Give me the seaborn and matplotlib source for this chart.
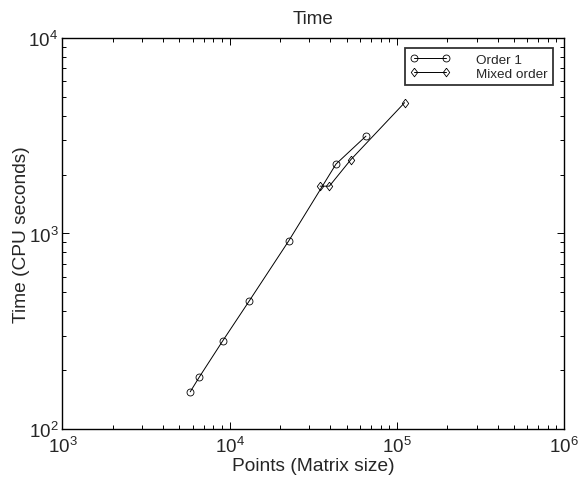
import matplotlib
matplotlib.use("Agg")
import matplotlib.pyplot as plt
import matplotlib.ticker as mticker
from matplotlib.lines import Line2D
import seaborn as sns
import pandas as pd

# Order 1 runs
order1_points = [5810, 6600, 9080, 13030, 22540, 43240, 65300]
order1_time = [155, 185, 282, 449, 916, 2265, 3148]

# Mixed order runs
mixed_points = [34750, 39450, 52970, 111200]
mixed_time = [1746, 1746, 2383, 4667]

series_names = ["Order 1", "Mixed order"]

# slightly tall diamond, like the classic MATLAB 'd' glyph
diamond = [(0, 1), (0.75, 0), (0, -1), (-0.75, 0), (0, 1)]
series_markers = {"Order 1": "o", "Mixed order": diamond}
marker_sizes = [5.0, 6.2]

sns.set_theme(style="white")
plt.rcParams["font.family"] = ["Liberation Sans", "DejaVu Sans"]
plt.rcParams["mathtext.fontset"] = "custom"
plt.rcParams["mathtext.rm"] = "Liberation Sans"
plt.rcParams["mathtext.it"] = "Liberation Sans"

df = pd.concat([
    pd.DataFrame({"points": order1_points, "time": order1_time, "series": series_names[0]}),
    pd.DataFrame({"points": mixed_points, "time": mixed_time, "series": series_names[1]}),
])

fig = plt.figure(figsize=(5.78, 4.81), dpi=100)
ax = fig.add_axes([0.108, 0.106, 0.868, 0.813])

sns.lineplot(data=df, x="points", y="time", style="series",
             markers=series_markers, dashes=False, color="black", lw=0.7,
             sort=False, markersize=5, markerfacecolor="none",
             markeredgecolor="black", markeredgewidth=0.6, ax=ax, legend=False)
for line, ms in zip(ax.lines, marker_sizes):
    line.set_markersize(ms)

ax.set_xscale("log")
ax.set_yscale("log")
ax.set_xlim(1e3, 1e6)
ax.set_ylim(1e2, 1e4)

ax.xaxis.set_major_locator(mticker.LogLocator(base=10))
ax.yaxis.set_major_locator(mticker.LogLocator(base=10))
ax.xaxis.set_minor_locator(mticker.LogLocator(base=10, subs=range(2, 10)))
ax.yaxis.set_minor_locator(mticker.LogLocator(base=10, subs=range(2, 10)))
ax.xaxis.set_minor_formatter(mticker.NullFormatter())
ax.yaxis.set_minor_formatter(mticker.NullFormatter())

ax.tick_params(which="both", direction="in", top=True, right=True,
               bottom=True, left=True, color="black", width=0.7)
ax.tick_params(axis="x", which="major", length=5, labelsize=13.5, pad=5)
ax.tick_params(axis="y", which="major", length=5, labelsize=13.5, pad=3)
ax.tick_params(which="minor", length=3)

for s in ax.spines.values():
    s.set_color("black")
    s.set_linewidth(1.0)

ax.set_title("Time", fontsize=13.5, pad=11)
ax.set_xlabel("Points (Matrix size)", fontsize=13.8, labelpad=1)
ax.set_ylabel("Time (CPU seconds)", fontsize=13.8, labelpad=-1)

handles = [
    Line2D([], [], color="black", lw=0.7, marker="o", mfc="none", mec="black",
           ms=marker_sizes[0], mew=0.6),
    Line2D([], [], color="black", lw=0.7, marker=diamond, mfc="none", mec="black",
           ms=marker_sizes[1], mew=0.6),
]
leg = ax.legend(handles, series_names, loc="upper right", bbox_to_anchor=(0.978, 0.974),
                numpoints=2, handlelength=3.0, fontsize=9.7, frameon=True, fancybox=False,
                borderpad=0.4, labelspacing=0.1, handletextpad=1.9, borderaxespad=0)
leg.get_frame().set_edgecolor("black")
leg.get_frame().set_linewidth(1.3)

fig.savefig("out.png", dpi=100)
